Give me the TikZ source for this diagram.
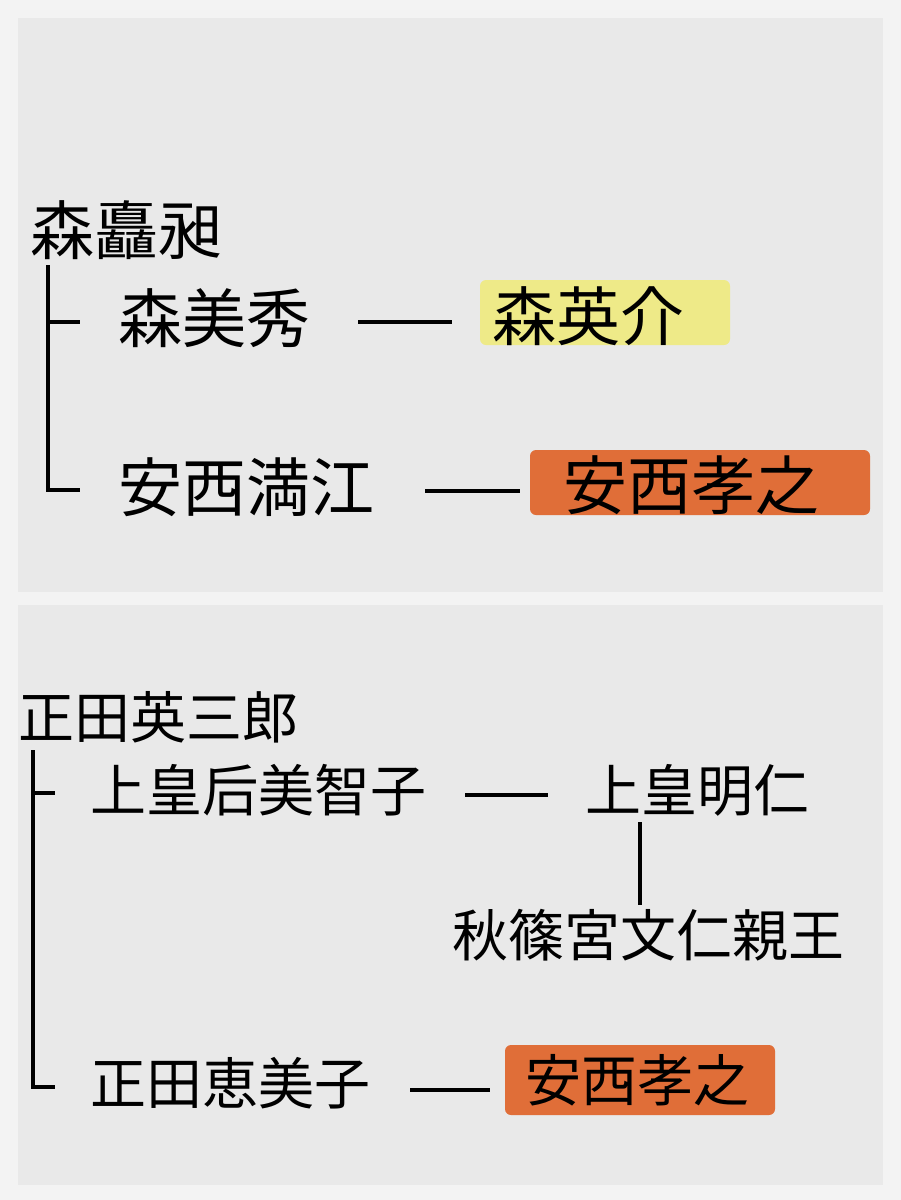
\documentclass[tikz,border=0pt]{standalone}
\usepackage{fontspec}
\newfontfamily\cjk{Noto Sans CJK JP}
\definecolor{bg}{HTML}{F3F3F3}
\definecolor{panel}{HTML}{E9E9E9}
\definecolor{hly}{HTML}{EEEA88}
\definecolor{hlo}{HTML}{E06E38}
\begin{document}
\begin{tikzpicture}[x=1pt,y=-1pt,
  big/.style={anchor=west,inner sep=0pt,font=\cjk\fontsize{64}{70}\selectfont},
  mid/.style={anchor=west,inner sep=0pt,font=\cjk\fontsize{56}{62}\selectfont},
  ln/.style={line width=4pt}]
\useasboundingbox (0,0) rectangle (901,1200);
\fill[bg] (0,0) rectangle (901,1200);
\fill[panel] (18,18) rectangle (883,592);
\fill[panel] (18,605) rectangle (883,1185);
% top
\node[big] (a) at (30,230) {森矗昶};
\node[big] (b) at (118,318) {森美秀};
\fill[hly,rounded corners=6pt] (480,280) rectangle (730,345);
\node[big] (c) at (492,316) {森英介};
\node[big] (d) at (118,487) {安西満江};
\fill[hlo,rounded corners=6pt] (530,450) rectangle (870,515);
\node[big] (e) at (563,485) {安西孝之};
\coordinate (t1) at (48,265);
\coordinate (t2) at (48,490);
\draw[ln] (t1) -- (t2) -- (80,490);
\draw[ln] (48,322) -- (80,322);
\draw[ln] (358,322) -- (452,322);
\draw[ln] (425,491) -- (520,491);
% bottom
\node[mid] (f) at (18,717) {正田英三郎};
\node[mid] (g) at (90,790) {上皇后美智子};
\node[mid] (h) at (585,790) {上皇明仁};
\node[mid] (i) at (452,935) {秋篠宮文仁親王};
\node[mid] (j) at (90,1083) {正田恵美子};
\fill[hlo,rounded corners=6pt] (505,1045) rectangle (775,1115);
\node[mid] (k) at (525,1080) {安西孝之};
\draw[ln] (33,750) -- (33,1087) -- (55,1087);
\draw[ln] (33,793) -- (55,793);
\draw[ln] (465,795) -- (548,795);
\draw[ln] (640,822) -- (640,905);
\draw[ln] (410,1090) -- (490,1090);
\end{tikzpicture}
\end{document}
